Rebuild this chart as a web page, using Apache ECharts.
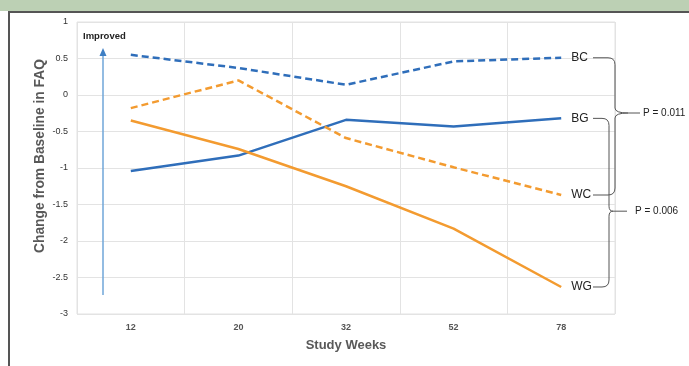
<!DOCTYPE html>
<html>
<head>
<meta charset="utf-8">
<script src="https://cdn.jsdelivr.net/npm/echarts@6/dist/echarts.min.js"></script>
<style>
html,body{margin:0;padding:0;background:#fff;}
#band{position:absolute;left:0;top:0;width:689px;height:11px;background:#bcd0b4;}
#topline{position:absolute;left:8px;top:11px;width:681px;height:2px;background:#555;}
#leftline{position:absolute;left:8px;top:11px;width:2px;height:355px;background:#555;}
#chart{position:absolute;left:0;top:0;width:689px;height:366px;}
</style>
</head>
<body>
<div id="chart"></div>
<div id="band"></div>
<div id="topline"></div>
<div id="leftline"></div>
<script>
var weeks = ['12', '20', '32', '52', '78'];
var BC = [0.55, 0.37, 0.14, 0.46, 0.51];
var BG = [-1.04, -0.83, -0.34, -0.43, -0.32];
var WC = [-0.18, 0.20, -0.59, -0.99, -1.37];
var WG = [-0.35, -0.74, -1.25, -1.83, -2.63];
var pLabels = ['P = 0.011', 'P = 0.006'];

var blue = '#2f6eba', orange = '#f39b30';
var font = 'Liberation Sans, Arial, sans-serif';

function mk(name, data, color, dashed) {
  return {
    name: name, type: 'line', data: data, symbol: 'none',
    lineStyle: {color: color, width: 2.5, type: dashed ? [7, 4] : 'solid'},
    endLabel: {show: true, formatter: '{a}', distance: 10, fontSize: 12, color: '#222', fontFamily: font}
  };
}

var chart = echarts.init(document.getElementById('chart'));
chart.setOption({
  animation: false,
  grid: {left: 77, right: 74, top: 22, bottom: 52, show: true, borderColor: '#e3e3e3', borderWidth: 1},
  xAxis: {
    type: 'category', data: weeks, boundaryGap: true,
    axisLine: {show: false}, axisTick: {show: false},
    splitLine: {show: true, interval: 0, lineStyle: {color: '#e3e3e3'}},
    axisLabel: {fontSize: 9, fontWeight: 'bold', color: '#555', margin: 9, fontFamily: font},
    name: 'Study Weeks', nameLocation: 'middle', nameGap: 25,
    nameTextStyle: {fontSize: 13, fontWeight: 'bold', color: '#595959', fontFamily: font}
  },
  yAxis: {
    type: 'value', min: -3, max: 1, interval: 0.5,
    axisLine: {show: false}, axisTick: {show: false},
    splitLine: {lineStyle: {color: '#e3e3e3'}},
    axisLabel: {fontSize: 9, color: '#333', margin: 9, fontFamily: font}
  },
  series: [mk('BC', BC, blue, true), mk('BG', BG, blue, false), mk('WC', WC, orange, true), mk('WG', WG, orange, false)]
});

var last = weeks.length - 1;
function py(v) { return chart.convertToPixel({gridIndex: 0}, [last, v])[1]; }
var yBC = py(BC[last]), yBG = py(BG[last]), yWC = py(WC[last]), yWG = py(WG[last]);
var x0 = 593;
var st = {stroke: '#555', lineWidth: 1, fill: null};

function L(x1, y1, x2, y2) { return {type: 'line', shape: {x1: x1, y1: y1, x2: x2, y2: y2}, style: st}; }
function Q(x1, y1, cx, cy, x2, y2) { return {type: 'bezierCurve', shape: {x1: x1, y1: y1, cpx1: cx, cpy1: cy, x2: x2, y2: y2}, style: st}; }

function brace(yTop, yBot, xv, yTip, xTip, xEnd) {
  var r = 7;
  return [
    L(x0, yTop, xv - r, yTop),
    Q(xv - r, yTop, xv, yTop, xv, yTop + r),
    L(xv, yTop + r, xv, yTip - 5),
    Q(xv, yTip - 5, xv, yTip, xTip, yTip),
    Q(xTip, yTip, xv, yTip, xv, yTip + 5),
    L(xv, yTip + 5, xv, yBot - r),
    Q(xv, yBot - r, xv, yBot, xv - r, yBot),
    L(xv - r, yBot, x0, yBot),
    L(xTip, yTip, xEnd, yTip)
  ];
}
var tip1 = 113, tip2 = (yBG + yWG) / 2 + 8.5;

var g = [].concat(
  brace(yBC, yWC, 615, tip1, 628, 640),
  brace(yBG, yWG, 609, tip2, 613, 627),
  [
    {type: 'text', x: 643, y: tip1, style: {text: pLabels[0], font: '10px ' + font, fill: '#222', textVerticalAlign: 'middle'}},
    {type: 'text', x: 635, y: tip2, style: {text: pLabels[1], font: '10px ' + font, fill: '#222', textVerticalAlign: 'middle'}},
    {type: 'line', shape: {x1: 103, y1: 295, x2: 103, y2: 54}, style: {stroke: '#6fa6d8', lineWidth: 1.5}},
    {type: 'polygon', shape: {points: [[103, 48], [99.5, 56], [106.5, 56]]}, style: {fill: '#3f7fc4'}},
    {type: 'text', x: 83, y: 36, style: {text: 'Improved', font: 'bold 9.5px ' + font, fill: '#222', textVerticalAlign: 'middle'}},
    {type: 'text', x: 40, y: 156, rotation: Math.PI / 2, style: {text: 'Change from Baseline in FAQ', font: 'bold 13.8px ' + font, fill: '#595959', textAlign: 'center', textVerticalAlign: 'middle'}}
  ]
);
chart.setOption({graphic: g});
</script>
</body>
</html>
